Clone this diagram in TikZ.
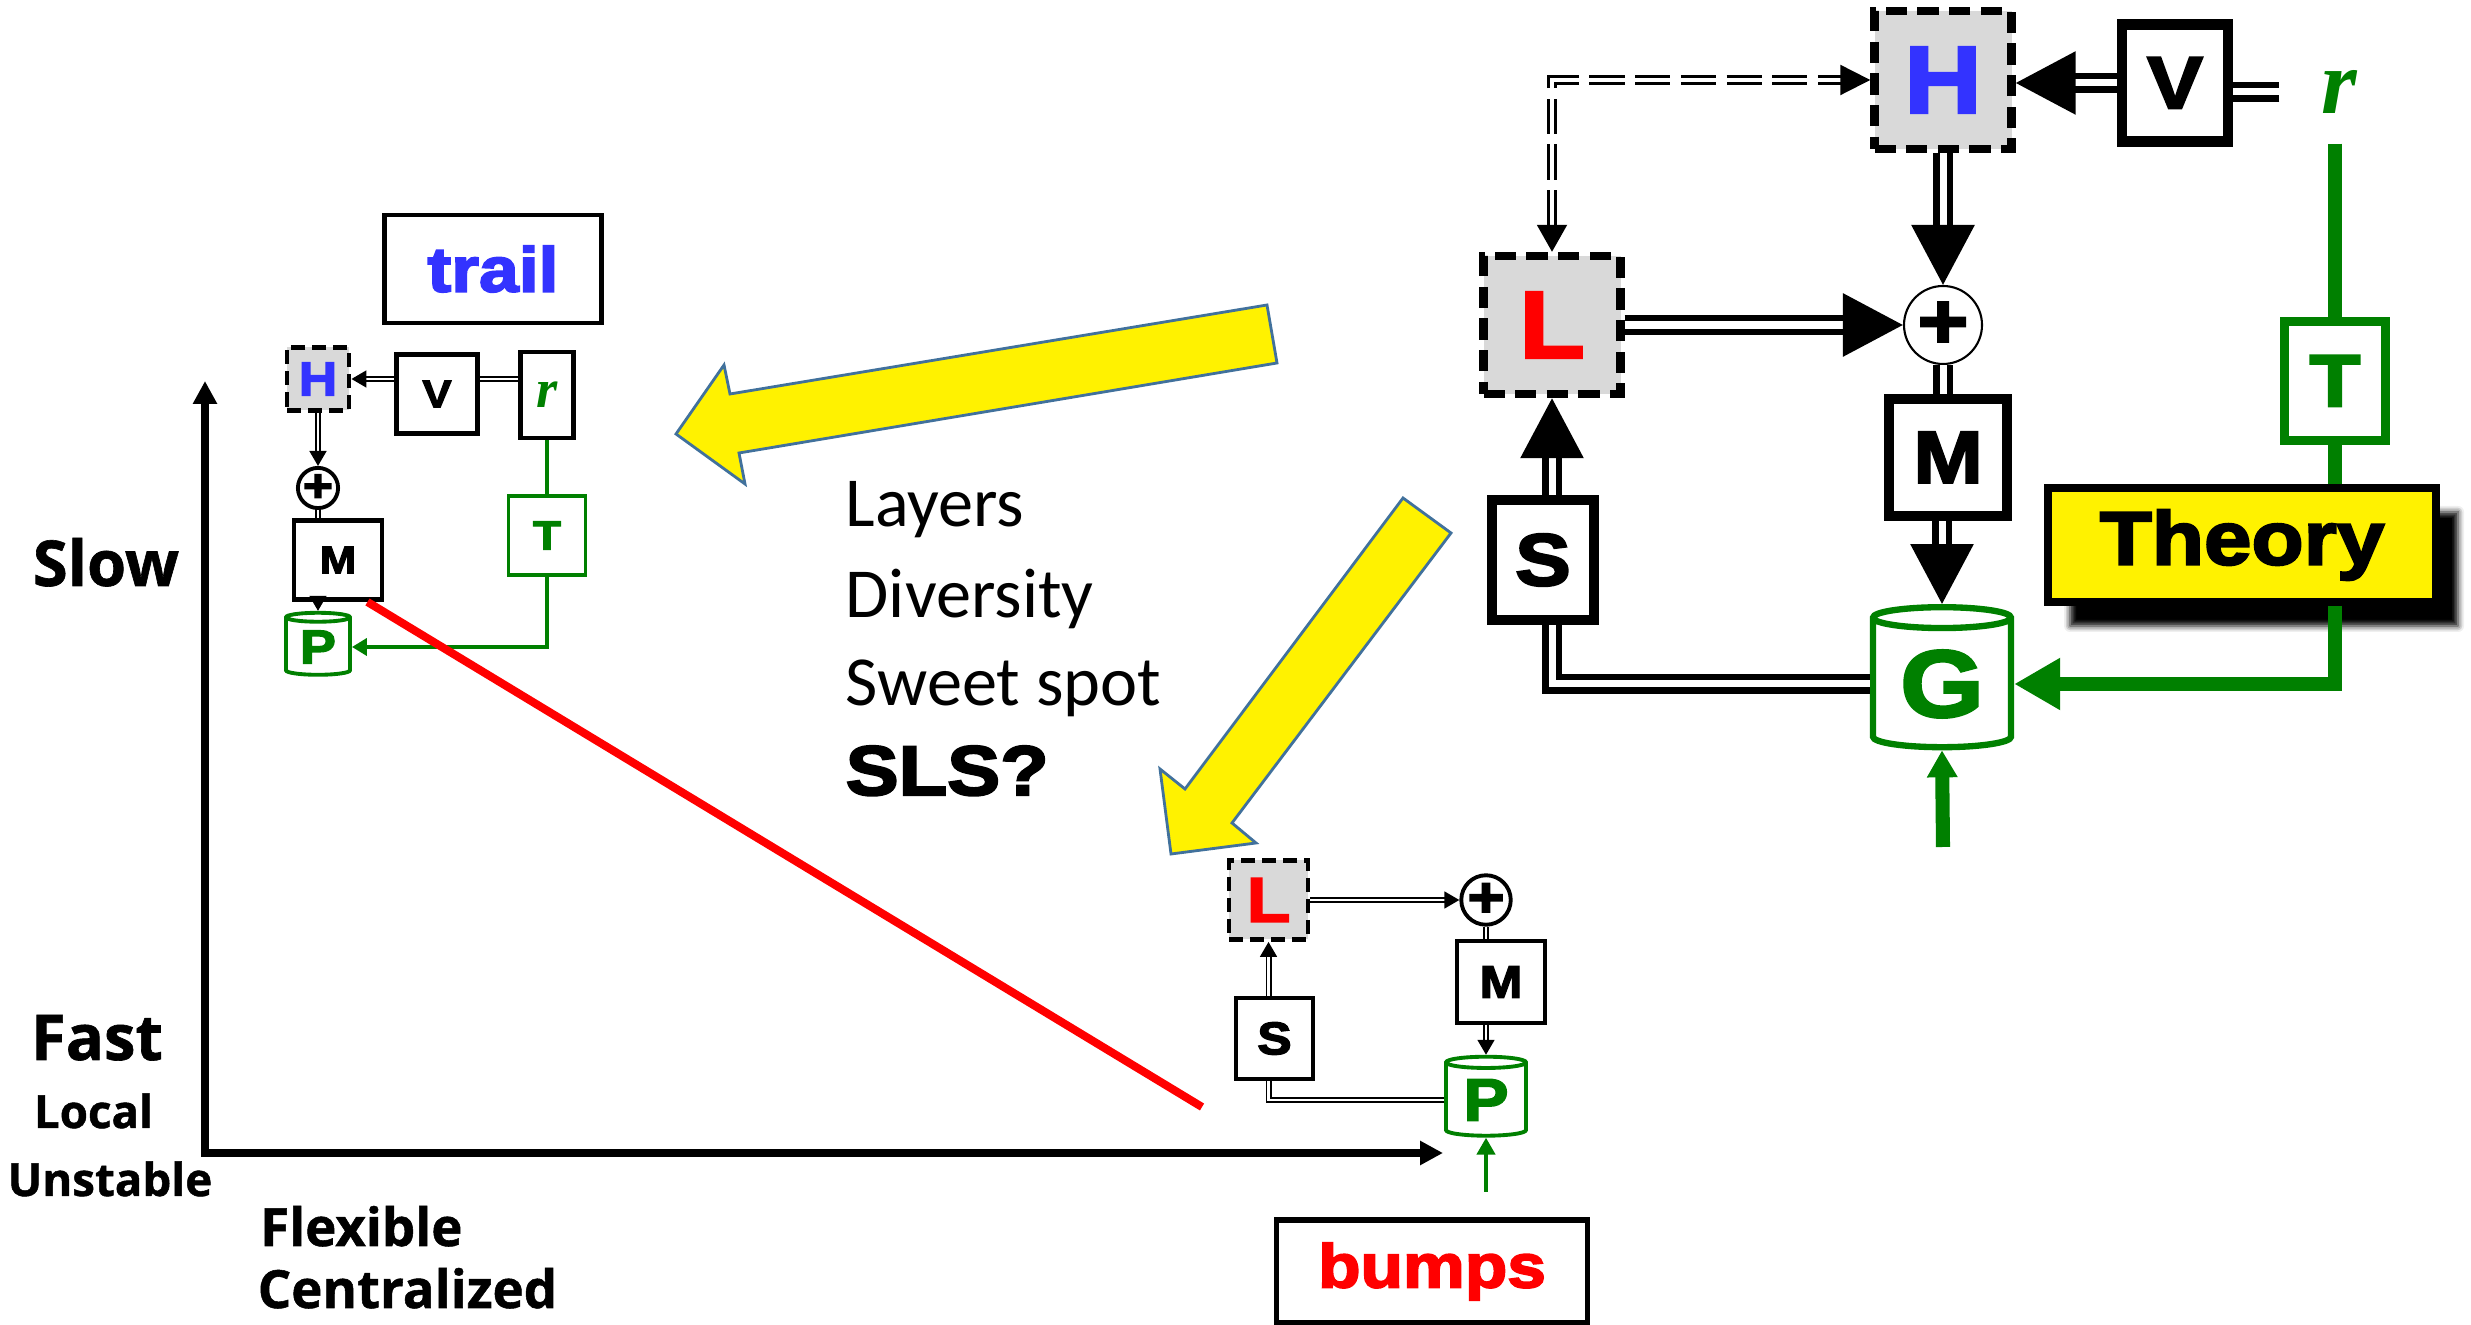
\documentclass[tikz,border=0pt]{standalone}
\usepackage{fontspec}
\setmainfont{Carlito}
\newfontfamily\heavyfont{Liberation Sans}[FakeBold=3, FakeStretch=1.13]
\newfontfamily\axisfont{Open Sans}[FakeBold=1]
\newfontfamily\rfont{Liberation Serif}
\usetikzlibrary{arrows.meta, shapes.geometric, shadows.blur, calc, positioning}

\definecolor{hblue}{RGB}{51,51,255}
\definecolor{tgreen}{RGB}{0,128,0}
\definecolor{boxgray}{RGB}{217,217,217}
\definecolor{arrowedge}{RGB}{65,113,156}

\newcommand{\heavy}[1]{\heavyfont\bfseries\fontsize{#1}{#1}\selectfont}
\newcommand{\axistext}[1]{\axisfont\bfseries\fontsize{#1}{#1}\selectfont}

\tikzset{
    bigbox/.style={draw, line width=3pt, fill=white, inner sep=0pt},
    biglayer/.style={bigbox, line width=2.4pt, fill=boxgray, dash pattern=on 6pt off 3pt},
    bigsum/.style={circle, draw, line width=0.6pt, fill=white, inner sep=0pt, minimum size=0.78cm, font=\heavy{22}},
    bigstore/.style={cylinder, shape border rotate=90, aspect=0.25, draw=tgreen, line width=1.8pt, fill=white, text=tgreen, inner sep=0pt},
    bigflow/.style={double, line width=1.8pt, double distance=2pt, -{Triangle[length=0.6cm, width=0.62cm]}},
    bigpair/.style={double, line width=1.8pt, double distance=2pt},
    layerflow/.style={double, line width=0.6pt, double distance=1.4pt, dash pattern=on 10pt off 3pt, {Triangle[length=0.27cm, width=0.3cm]}-{Triangle[length=0.3cm, width=0.3cm]}},
    feed/.style={tgreen, line width=4pt},
    smallbox/.style={draw, line width=1.4pt, fill=white, inner sep=0pt},
    smalllayer/.style={smallbox, fill=boxgray, dash pattern=on 4pt off 2pt},
    smallsum/.style={circle, draw, line width=1.1pt, fill=white, inner sep=0pt},
    smallstore/.style={cylinder, shape border rotate=90, aspect=0.25, draw=tgreen, line width=1.1pt, fill=white, text=tgreen, inner sep=0pt},
    smallflow/.style={double, line width=0.5pt, double distance=0.7pt, -{Triangle[length=0.15cm, width=0.17cm]}},
    smallpair/.style={double, line width=0.5pt, double distance=0.7pt},
    thinfeed/.style={tgreen, line width=1.3pt},
    axis/.style={line width=2pt, {Triangle[length=0.23cm, width=0.23cm]}-{Triangle[length=0.23cm, width=0.23cm]}},
    pointer/.style={fill=yellow, draw=arrowedge, line width=0.8pt},
}

\begin{document}
\begin{tikzpicture}

    \useasboundingbox (0,0) rectangle (24.71,13.25);

    %yellow arrows
    \draw [pointer] (12.67,10.20) -- (7.30,9.31) -- (7.24,9.60) -- (6.76,8.91) -- (7.45,8.41) -- (7.39,8.72) -- (12.77,9.62) -- cycle;
    \draw [pointer] (14.03,8.27) -- (11.85,5.36) -- (11.60,5.56) -- (11.71,4.71) -- (12.56,4.82) -- (12.32,5.02) -- (14.51,7.92) -- cycle;

    %big loop nodes
    \node [biglayer, minimum width=1.37cm, minimum height=1.38cm, text=hblue, font=\heavy{27}] (H) at (19.43,12.45) {H};
    \node [bigbox, minimum width=1.06cm, minimum height=1.17cm, font=\heavy{21}] (V) at (21.75,12.42) {V};
    \node [inner sep=0pt, minimum width=1.18cm, minimum height=1.02cm, text=tgreen, font=\rfont\bfseries\itshape\fontsize{26}{26}\selectfont] (r) at (23.39,12.33) {r};
    \node [biglayer, minimum width=1.37cm, minimum height=1.38cm, text=red, font=\heavy{27}] (L) at (15.52,10.00) {L};
    \node [bigsum] (sum) at (19.43,10.00) {+};
    \node [bigbox, minimum width=1.18cm, minimum height=1.17cm, font=\heavy{21}] (M) at (19.48,8.675) {M};
    \node [bigstore, minimum width=1.38cm, minimum height=1.40cm, font=\heavy{27}] (G) at (19.42,6.41) {G};
    \node [bigbox, minimum width=1.02cm, minimum height=1.20cm, font=\heavy{21}] (S) at (15.43,7.65) {S};
    \node [bigbox, draw=tgreen, line width=2.4pt, minimum width=1.01cm, minimum height=1.19cm, text=tgreen, font=\heavy{21}] (T) at (23.35,9.44) {T};
    \node [bigbox, line width=2.4pt, fill=yellow, minimum width=3.88cm, minimum height=1.14cm, font=\heavy{21.5},
        blur shadow={shadow xshift=0.22cm, shadow yshift=-0.24cm, shadow blur radius=0.06cm, shadow opacity=100}] (Theory) at (22.42,7.80) {Theory};
    \coordinate (Gin) at (19.43,4.78);

    %big loop connectors
    \draw [bigpair] (r.west) -- (V.east |- r.west);
    \draw [bigflow] (V.west) -- (V.west -| H.east);
    \draw [layerflow] (L.north) |- (H.west);
    \draw [bigflow] (H) -- (sum);
    \draw [bigflow] (L) -- (sum);
    \draw [bigpair] (sum.south) -- (sum.south |- M.north);
    \draw [bigflow] (M.south -| G.north) -- (G.north);
    \draw [bigflow] (S.north -| L.south) -- (L.south);
    \draw [bigpair] (G.west) -| (S.south -| L.south);
    \draw [feed] (r.south -| T.north) -- (T.north);
    \draw [feed] (T.south) -- (T.south |- Theory.north);
    \draw [feed, -{Triangle[length=0.46cm, width=0.49cm]}] (T.south |- Theory.south) |- (G.east);
    \draw [feed, -{Triangle[length=0.27cm, width=0.29cm]}] (Gin) -- (G.south);

    %trail nodes
    \node [smallbox, minimum width=2.17cm, minimum height=1.08cm, text=hblue, font=\heavy{18}] (trail) at (4.93,10.56) {trail};
    \node [smalllayer, minimum width=0.62cm, minimum height=0.63cm, text=hblue, font=\heavy{13.5}] (Ht) at (3.18,9.46) {H};
    \node [smallbox, minimum width=0.81cm, minimum height=0.79cm, font=\heavy{11}] (Vt) at (4.37,9.31) {V};
    \node [smallbox, minimum width=0.53cm, minimum height=0.86cm, text=tgreen, font=\rfont\bfseries\itshape\fontsize{15.5}{15.5}\selectfont] (rt) at (5.47,9.30) {r};
    \node [smallsum, minimum size=0.37cm, font=\heavy{13}] (sumt) at (3.18,8.37) {+};
    \node [smallbox, minimum width=0.88cm, minimum height=0.79cm, font=\heavy{11}] (Mt) at (3.38,7.65) {M};
    \node [smallstore, minimum width=0.64cm, minimum height=0.62cm, font=\heavy{13.5}] (Pt) at (3.18,6.78) {P};
    \node [smallbox, draw=tgreen, line width=1.1pt, minimum width=0.77cm, minimum height=0.79cm, text=tgreen, font=\heavy{11.5}] (Tt) at (5.47,7.895) {T};

    %trail connectors
    \draw [smallpair] (rt.west |- Ht) -- (Vt.east |- Ht);
    \draw [smallflow] (Vt.west |- Ht) -- (Ht.east);
    \draw [smallflow] (Ht) -- (sumt);
    \draw [smallpair] (sumt.south) -- (sumt.south |- Mt.north);
    \draw [smallflow] (Mt.south -| Pt.north) -- (Pt.north);
    \draw [thinfeed] (rt.south) -- (Tt.north);
    \draw [thinfeed, -{Triangle[length=0.15cm, width=0.17cm]}] (Tt.south) |- (Pt.east);

    %bumps nodes
    \node [smalllayer, minimum width=0.79cm, minimum height=0.79cm, text=red, font=\heavy{18}] (Lb) at (12.685,4.25) {L};
    \node [smallsum, minimum size=0.47cm, font=\heavy{16}] (sumb) at (14.86,4.25) {+};
    \node [smallbox, minimum width=0.88cm, minimum height=0.82cm, font=\heavy{13}] (Mb) at (15.01,3.43) {M};
    \node [smallbox, minimum width=0.77cm, minimum height=0.81cm, font=\heavy{13}] (Sb) at (12.745,2.865) {S};
    \node [smallstore, minimum width=0.80cm, minimum height=0.79cm, font=\heavy{17}] (Pb) at (14.86,2.25) {P};
    \node [smallbox, line width=1.5pt, minimum width=3.11cm, minimum height=1.03cm, text=red, font=\heavy{17.5}] (bumps) at (14.32,0.535) {bumps};
    \coordinate (Pin) at (14.86,1.33);

    %bumps connectors
    \draw [smallflow] (Lb) -- (sumb);
    \draw [smallflow] (Sb.north -| Lb.south) -- (Lb.south);
    \draw [smallpair] (sumb.south) -- (sumb.south |- Mb.north);
    \draw [smallflow] (Mb.south -| Pb.north) -- (Pb.north);
    \draw [smallpair] (Pb.west) -| (Sb.south -| Lb.south);
    \draw [thinfeed, -{Triangle[length=0.17cm, width=0.18cm]}] (Pin) -- (Pb.south);

    %axes
    \coordinate (origin) at (2.05,1.72);
    \coordinate (ytop) at (2.05,9.44);
    \coordinate (xend) at (14.43,1.72);
    \draw [axis] (ytop) -- (origin) -- (xend);
    \draw [red, line width=2.3pt] ([xshift=-0.17cm]Mt.south east) -- (12.02,2.18);

    %axis labels
    \node [anchor=base, inner sep=0pt, font=\axistext{18}] (slow) at (1.06,7.39) {Slow};
    \node [anchor=base, inner sep=0pt, font=\axistext{18}] (fast) at (0.97,2.65) {Fast};
    \node [anchor=base, inner sep=0pt, font=\axistext{13}] (local) at (0.935,1.97) {Local};
    \node [anchor=base, inner sep=0pt, font=\axistext{13}] (unstable) at (1.10,1.29) {Unstable};
    \node [anchor=base west, inner sep=0pt, font=\axistext{15}] (flexible) at (2.595,0.79) {Flexible};
    \node [anchor=base west, inner sep=0pt, font=\axistext{15}] (central) at (2.57,0.17) {Centralized};

    %middle list
    \node [anchor=base west, inner sep=0pt, font=\fontsize{20}{20}\selectfont] (layers) at (8.45,7.98) {Layers};
    \node [anchor=base west, inner sep=0pt, font=\fontsize{20}{20}\selectfont] (diversity) at (8.45,7.075) {Diversity};
    \node [anchor=base west, inner sep=0pt, font=\fontsize{20}{20}\selectfont] (sweet) at (8.45,6.19) {Sweet spot};
    \node [anchor=base west, inner sep=0pt, font=\heavy{20}] (sls) at (8.45,5.30) {SLS?};

\end{tikzpicture}
\end{document}
